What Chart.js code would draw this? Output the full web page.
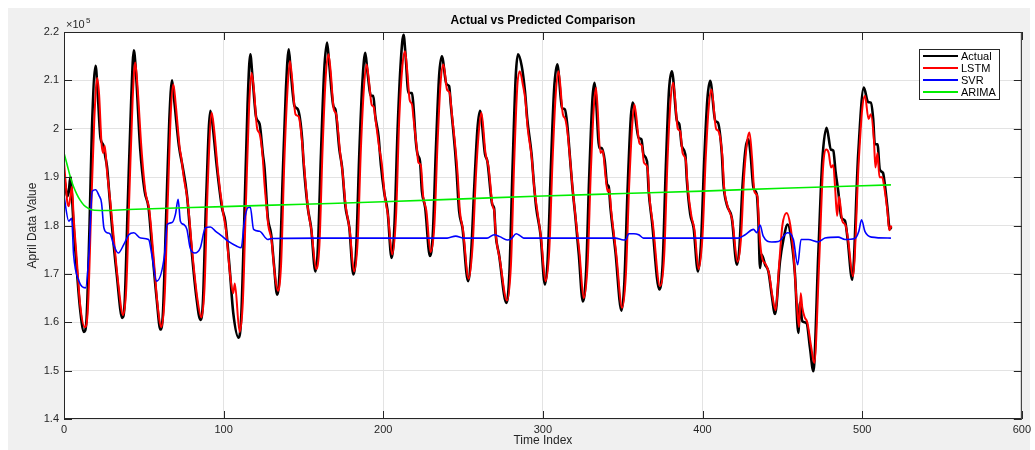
<!DOCTYPE html>
<html>
<head>
<meta charset="utf-8">
<script src="https://cdn.jsdelivr.net/npm/chart.js@4.4.1/dist/chart.umd.min.js"></script>
<style>
  html, body { margin: 0; padding: 0; background: #fff; }
  canvas { display: block; }
</style>
</head>
<body>
<canvas id="cmpChart" width="1035" height="450"></canvas>
<script>
// values in units of 10^5, [time index, value]
const actualPts = [
  [0,1.90],[1,1.88],[2,1.86],[3,1.87],[4,1.90],[5,1.86],[6,1.80],[8,1.71],[10,1.63],[12.5,1.58],[14,1.60],[16,1.80],[17.5,2.00],[19.8,2.13],
  [21,2.08],[22.9,1.98],[24.5,1.967],[26,1.94],[27,1.92],[28.5,1.86],[30,1.80],[33,1.70],[36.5,1.609],[38,1.64],[40,1.85],[42,2.05],[43.75,2.162],
  [45,2.12],[47.7,1.96],[50.5,1.871],[53,1.836],[55,1.76],[58,1.65],[60.4,1.585],[62,1.62],[64,1.82],[66,2.02],[67.7,2.10],
  [69,2.06],[72,1.964],[74.4,1.92],[77,1.864],[80,1.747],[83,1.65],[85.4,1.605],[87,1.64],[89,1.85],[91.7,2.037],
  [93,2.01],[95.8,1.919],[99,1.836],[101,1.809],[103.75,1.712],[106,1.62],[109.4,1.568],[111,1.61],[113,1.82],[115,2.05],[116.7,2.154],
  [118,2.11],[120.4,2.023],[122.5,2.01],[124.6,1.947],[125.6,1.919],[127.7,1.816],[129.8,1.781],[131.5,1.72],[133.5,1.657],[135,1.70],[137,1.90],[139,2.08],[140.8,2.164],
  [142,2.12],[144.4,2.047],[146.5,2.04],[149.2,1.978],[150,1.933],[152.7,1.837],[154.8,1.795],[157.5,1.705],[159,1.75],[161,1.95],[163,2.12],[164.8,2.178],
  [166,2.14],[168.75,2.047],[170,2.04],[172.5,1.957],[174.2,1.92],[176.25,1.84],[178.75,1.795],[181.25,1.699],[183,1.75],[185,1.95],[187,2.10],[188.75,2.157],
  [190,2.12],[192.3,2.068],[193.75,2.068],[195,2.026],[197,1.985],[198.5,1.926],[200.6,1.868],[202.7,1.83],[205.2,1.733],[207,1.80],[209,2.00],[211,2.14],[212.7,2.194],
  [214,2.15],[215.8,2.074],[218,2.074],[218.75,2.053],[220.4,1.974],[221.5,1.947],[223,1.933],[224.2,1.871],[226.25,1.837],[229.2,1.737],[231,1.78],[233,1.96],[235,2.11],[236.7,2.15],
  [239.6,2.092],[241.25,2.088],[242.3,2.05],[245,1.954],[245.8,1.919],[247.5,1.83],[249.6,1.795],[253.1,1.685],[255,1.74],[257,1.88],[259,2.00],[260.6,2.037],
  [263.75,1.947],[265.2,1.933],[268.3,1.843],[269.4,1.836],[270.4,1.781],[272.5,1.74],[277.1,1.64],[279,1.70],[281,1.92],[283,2.11],[284.4,2.154],
  [286.7,2.13],[288.75,2.078],[290.2,2.02],[292.9,1.947],[294.4,1.885],[295.8,1.837],[298.5,1.781],[301.25,1.678],[303,1.73],[305,1.92],[307,2.08],[309,2.133],
  [312,2.043],[313.75,2.04],[315.2,2.01],[317.3,1.926],[318.3,1.885],[320.4,1.816],[322.5,1.74],[325,1.643],[327,1.70],[329,1.90],[331,2.06],[332.3,2.095],
  [335.4,1.96],[337,1.96],[338.75,1.933],[340.2,1.885],[341.25,1.88],[342.3,1.837],[345.4,1.747],[349.2,1.624],[351,1.68],[353,1.87],[355,2.02],[356.25,2.054],
  [360,1.981],[361.7,1.978],[363,1.947],[365.2,1.933],[366.25,1.871],[368.3,1.809],[372.9,1.668],[375,1.72],[377,1.92],[379,2.08],[380.8,2.119],
  [384,2.016],[385.4,2.01],[387,1.964],[389.2,1.947],[390.2,1.892],[392.3,1.823],[394.4,1.795],[397.1,1.705],[399,1.76],[401,1.93],[403,2.06],[404.8,2.099],
  [408,2.016],[409.6,2.013],[412.1,1.947],[413.1,1.885],[415.2,1.843],[418.3,1.816],[421.5,1.719],[423,1.75],[425,1.88],[427,1.96],[428.75,1.978],
  [430,1.95],[431.9,1.878],[434,1.864],[435,1.809],[436,1.712],[437,1.74],[439.2,1.719],[441.25,1.705],[443.3,1.657],[445.4,1.617],[448.5,1.726],[450.6,1.77],[453.3,1.802],
  [455.8,1.767],[457.9,1.699],[460,1.578],[461,1.64],[462.5,1.602],[465.2,1.598],[467.3,1.547],[469.4,1.499],[472.5,1.74],[475,1.933],[477.7,2.002],
  [480.4,1.957],[481.9,1.955],[483.3,1.912],[485,1.871],[487,1.816],[489.2,1.81],[490.8,1.774],[493.75,1.688],[497.5,1.947],[501,2.085],
  [503.75,2.055],[505.4,2.054],[506.9,2.02],[507.9,1.968],[509.6,1.968],[511,1.916],[513,1.909],[514,1.89],[515.8,1.837],[517.3,1.792],[518.3,1.797]
];
const lstmPts = [
  [0,1.93],[1,1.89],[2,1.85],[3,1.84],[4,1.86],[5,1.88],[6,1.82],[8,1.73],[10,1.64],[13,1.59],[15,1.63],[17,1.83],[19,2.02],[20.8,2.105],
  [22,2.07],[23.5,1.97],[24.5,1.95],[25.5,1.965],[27,1.91],[28,1.88],[29,1.85],[31,1.78],[34,1.68],[37,1.615],[39,1.67],[41,1.87],[43,2.06],[44.6,2.137],
  [46,2.09],[48.5,1.96],[51,1.87],[53.5,1.83],[56,1.74],[58.5,1.64],[61,1.59],[63,1.65],[65,1.85],[67,2.04],[68.5,2.092],
  [70,2.05],[72.5,1.96],[73.5,1.94],[75,1.90],[77.5,1.85],[80.5,1.74],[83.5,1.65],[86,1.61],[88,1.67],[90,1.88],[92.5,2.033],
  [94,2.00],[96.5,1.91],[99.5,1.83],[101.5,1.79],[104,1.70],[106,1.66],[107,1.68],[110,1.58],[112,1.64],[114,1.85],[116,2.05],[117.5,2.116],
  [119,2.08],[121,2.00],[122.5,1.99],[124.5,1.94],[125.5,1.89],[126,1.87],[128,1.80],[130,1.77],[132,1.70],[134,1.665],[136,1.72],[138,1.93],[140,2.08],[141.5,2.14],
  [143,2.10],[145,2.03],[147,2.025],[149.5,1.96],[150.5,1.92],[153,1.83],[155,1.79],[158,1.71],[160,1.76],[162,1.96],[164,2.11],[165.7,2.154],
  [167,2.12],[169,2.04],[170.5,2.03],[173,1.95],[174.5,1.91],[176.5,1.84],[179,1.79],[181.7,1.705],[184,1.77],[186,1.96],[188,2.09],[189.6,2.133],
  [191,2.10],[192.7,2.05],[194,2.045],[195.5,2.01],[197.5,1.96],[199,1.93],[201,1.86],[203,1.82],[205.6,1.74],[208,1.82],[210,2.02],[212,2.13],[213.6,2.16],
  [215,2.12],[216.5,2.06],[218,2.05],[219,2.02],[221,1.96],[222,1.93],[223.5,1.925],[225,1.86],[227,1.83],[229.6,1.745],[232,1.80],[234,1.97],[236,2.10],[237.7,2.133],
  [240,2.08],[241.5,2.075],[243,2.03],[245.5,1.95],[246.5,1.91],[248,1.83],[250,1.79],[253.5,1.69],[256,1.76],[258,1.90],[260,2.00],[261.5,2.033],
  [264,1.95],[266,1.92],[268.5,1.84],[269.5,1.83],[270.5,1.78],[273,1.73],[277.5,1.645],[280,1.72],[282,1.93],[284,2.09],[285.5,2.119],
  [287.5,2.09],[289,2.06],[290.5,2.00],[293,1.94],[294.5,1.88],[296.5,1.83],[299,1.77],[301.6,1.685],[304,1.75],[306,1.93],[308,2.07],[309.8,2.119],
  [312.5,2.03],[314,2.02],[315.5,1.99],[317.5,1.92],[318.5,1.88],[320.7,1.81],[323,1.74],[325.5,1.65],[328,1.72],[330,1.91],[332,2.05],[333.3,2.085],
  [336,1.95],[337.5,1.955],[339,1.91],[340.5,1.87],[341.5,1.875],[342.8,1.83],[346,1.74],[349.6,1.63],[352,1.70],[354,1.88],[356,2.01],[357.3,2.05],
  [360.5,1.97],[362,1.965],[363.3,1.93],[365.5,1.92],[366.7,1.86],[369,1.80],[373.3,1.675],[376,1.74],[378,1.93],[380,2.06],[381.7,2.095],
  [384.5,2.00],[386,1.995],[387.5,1.95],[389.5,1.935],[390.7,1.88],[393,1.82],[395,1.79],[397.5,1.71],[400,1.78],[402,1.94],[404,2.05],[405.6,2.081],
  [408.5,2.00],[410,1.995],[412.5,1.94],[413.5,1.88],[415.7,1.84],[418.7,1.81],[421.9,1.725],[424,1.77],[426,1.90],[428,1.975],[429.4,1.992],
  [431,1.94],[432.5,1.87],[434.4,1.86],[435.5,1.79],[436.5,1.75],[437.5,1.73],[439.5,1.72],[441.7,1.70],[443.7,1.655],[445.8,1.625],[448,1.72],[450,1.80],[452.7,1.826],
  [455,1.80],[457,1.74],[459,1.64],[460.4,1.59],[461.5,1.66],[462.5,1.63],[464,1.61],[465.6,1.60],[468,1.55],[470,1.516],[473,1.72],[475.5,1.92],[477.5,1.957],
  [479,1.95],[480.5,1.92],[481.9,1.925],[483,1.88],[484.3,1.82],[485.5,1.86],[487.5,1.81],[489.6,1.80],[491.2,1.77],[494.2,1.695],[497.8,1.93],[500,2.04],[501.7,2.068],
  [504,2.02],[505.4,2.03],[507.3,1.98],[508.3,1.92],[509.6,1.95],[510.8,1.90],[512.5,1.90],[513.8,1.88],[515.8,1.83],[517,1.79],[518.3,1.80]
];
const svrPts = [
  [0,1.861],[3,1.809],[4.8,1.815],[6,1.74],[9.4,1.685],[13.5,1.671],[15.6,1.74],[17.7,1.871],[19.8,1.874],[21.9,1.862],[23.5,1.847],[25,1.795],[27,1.785],
  [29,1.782],[31,1.761],[34,1.743],[37.5,1.761],[40.6,1.781],[43.75,1.785],[48,1.774],[53,1.771],[55,1.74],[58,1.685],[63,1.74],[64.6,1.802],
  [67.7,1.806],[69.8,1.823],[71.5,1.854],[72.9,1.809],[75,1.802],[77,1.792],[79,1.754],[82,1.743],[85.4,1.754],[88.5,1.795],[91.7,1.797],[95,1.788],
  [99,1.778],[103,1.767],[108.3,1.757],[111,1.754],[113,1.809],[115.2,1.837],[116.7,1.838],[118.75,1.792],[122.5,1.788],[127.7,1.771],[129.8,1.773],
  [160,1.774],[200,1.774],[240,1.774],[245.4,1.778],[250,1.774],[265,1.774],[269.4,1.781],[273,1.777],[277.7,1.770],[280,1.772],[283.3,1.783],[286,1.778],
  [288,1.774],[320,1.774],[345.4,1.774],[350.6,1.770],[352,1.771],[353.75,1.783],[357,1.783],[360,1.781],[363,1.774],[400,1.774],[422.5,1.774],
  [426.7,1.781],[431.9,1.792],[434,1.785],[436,1.801],[438,1.778],[443.3,1.766],[447.5,1.767],[453.3,1.785],[456.9,1.771],[459.6,1.719],[461.7,1.771],
  [466.25,1.771],[472.5,1.766],[476.7,1.774],[485,1.776],[489.2,1.771],[495.4,1.773],[497.9,1.788],[499.6,1.812],[501.7,1.788],[505.8,1.776],[518,1.774]
];
const arimaPts = [
  [0,1.95],[2,1.925],[4,1.90],[6,1.88],[8,1.865],[10,1.853],[12.5,1.842],[15,1.836],[18,1.832],[25,1.831],[40,1.833],
  [100,1.839],[150,1.844],[200,1.849],[250,1.855],[300,1.861],[350,1.866],[400,1.871],[450,1.877],[518,1.884]
];
const timeTicks = [0, 100, 200, 300, 400, 500, 600];
const valueTicks = [1.4, 1.5, 1.6, 1.7, 1.8, 1.9, 2.0, 2.1, 2.2];

const FONT = "'Liberation Sans', Arial, Helvetica, sans-serif";
const AXIS_COLOR = "#262626";

const toXY = (pts) => pts.map((p) => ({ x: p[0], y: p[1] }));

const figurePlugin = {
  id: "figure",
  beforeDraw(chart) {
    const c = chart.ctx;
    const a = chart.chartArea;
    c.save();
    c.fillStyle = "#ffffff";
    c.fillRect(0, 0, chart.width, chart.height);
    c.fillStyle = "#f0f0f0";
    c.fillRect(8, 8, 1022, chart.height - 8);
    c.fillStyle = "#ffffff";
    c.fillRect(a.left, a.top, a.right - a.left, a.bottom - a.top);
    c.restore();
  },
  afterDraw(chart) {
    const c = chart.ctx;
    const a = chart.chartArea;
    const xs = chart.scales.x;
    const ys = chart.scales.y;
    c.save();
    // axes box
    c.strokeStyle = AXIS_COLOR;
    c.lineWidth = 1;
    c.strokeRect(a.left + 0.5, a.top + 0.5, a.right - a.left - 1, a.bottom - a.top - 1);
    // inward ticks
    c.beginPath();
    timeTicks.forEach((t) => {
      const px = Math.round(xs.getPixelForValue(t)) + 0.5;
      c.moveTo(px, a.bottom); c.lineTo(px, a.bottom - 8);
      c.moveTo(px, a.top); c.lineTo(px, a.top + 8);
    });
    valueTicks.forEach((v) => {
      const py = Math.round(ys.getPixelForValue(v)) + 0.5;
      c.moveTo(a.left, py); c.lineTo(a.left + 8, py);
      c.moveTo(a.right, py); c.lineTo(a.right - 8, py);
    });
    c.stroke();
    // title
    c.fillStyle = "#000";
    c.font = "bold 12px " + FONT;
    c.textAlign = "center";
    c.textBaseline = "alphabetic";
    c.fillText("Actual vs Predicted Comparison", (a.left + a.right) / 2, 24);
    // exponent
    c.fillStyle = AXIS_COLOR;
    c.textAlign = "left";
    c.font = "11px " + FONT;
    c.fillText("\u00d710", a.left + 2, 28);
    c.font = "8px " + FONT;
    c.fillText("5", a.left + 22, 23);
    // legend
    const lx = 919, ly = 49, lw = 80, lh = 50;
    c.fillStyle = "#ffffff";
    c.fillRect(lx, ly, lw, lh);
    c.strokeStyle = AXIS_COLOR;
    c.strokeRect(lx + 0.5, ly + 0.5, lw, lh);
    c.font = "11px " + FONT;
    c.textBaseline = "middle";
    chart.data.datasets.forEach((ds, i) => {
      const yy = ly + 7 + i * 12;
      c.strokeStyle = ds.borderColor;
      c.lineWidth = 2;
      c.beginPath();
      c.moveTo(lx + 4, yy); c.lineTo(lx + 39, yy);
      c.stroke();
      c.fillStyle = "#000";
      c.fillText(ds.label, lx + 42, yy + 1);
    });
    c.restore();
  },
};

const ctx = document.getElementById("cmpChart").getContext("2d");
const cmpChart = new Chart(ctx, {
  type: "line",
  data: {
    datasets: [
      { label: "Actual", data: toXY(actualPts), borderColor: "#000000", borderWidth: 2.6, order: 4 },
      { label: "LSTM", data: toXY(lstmPts), borderColor: "#ff0000", borderWidth: 2, order: 3 },
      { label: "SVR", data: toXY(svrPts), borderColor: "#0000ff", borderWidth: 1.6, order: 2 },
      { label: "ARIMA", data: toXY(arimaPts), borderColor: "#00ee00", borderWidth: 1.6, order: 1 },
    ],
  },
  options: {
    responsive: false,
    devicePixelRatio: 1,
    animation: false,
    parsing: true,
    layout: { padding: { left: 0, top: 32, right: 12, bottom: 0 } },
    elements: {
      point: { radius: 0 },
      line: { cubicInterpolationMode: "monotone", fill: false },
    },
    scales: {
      x: {
        type: "linear",
        min: 0,
        max: 600,
        afterFit: (s) => { s.height = 31; },
        afterBuildTicks: (s) => { s.ticks = timeTicks.map((v) => ({ value: v })); },
        grid: { color: "#e3e3e3", drawTicks: false },
        border: { display: false },
        ticks: { color: AXIS_COLOR, font: { family: FONT, size: 11 }, padding: 4, maxRotation: 0 },
        title: { display: true, text: "Time Index", color: AXIS_COLOR, font: { family: FONT, size: 12 }, padding: { top: 0, bottom: 2 } },
      },
      y: {
        min: 1.4,
        max: 2.2,
        afterFit: (s) => { s.width = 64; },
        afterBuildTicks: (s) => { s.ticks = valueTicks.map((v) => ({ value: v })); },
        grid: { color: "#e3e3e3", drawTicks: false },
        border: { display: false },
        ticks: {
          color: AXIS_COLOR,
          font: { family: FONT, size: 11 },
          padding: 5,
          callback: (v) => String(Number(v.toFixed(1))),
        },
        title: { display: true, text: "April Data Value", color: AXIS_COLOR, font: { family: FONT, size: 12 }, padding: { top: 25, bottom: 0 } },
      },
    },
    plugins: {
      legend: { display: false },
      title: { display: false },
      tooltip: { enabled: false },
    },
  },
  plugins: [figurePlugin],
});
</script>
</body>
</html>
